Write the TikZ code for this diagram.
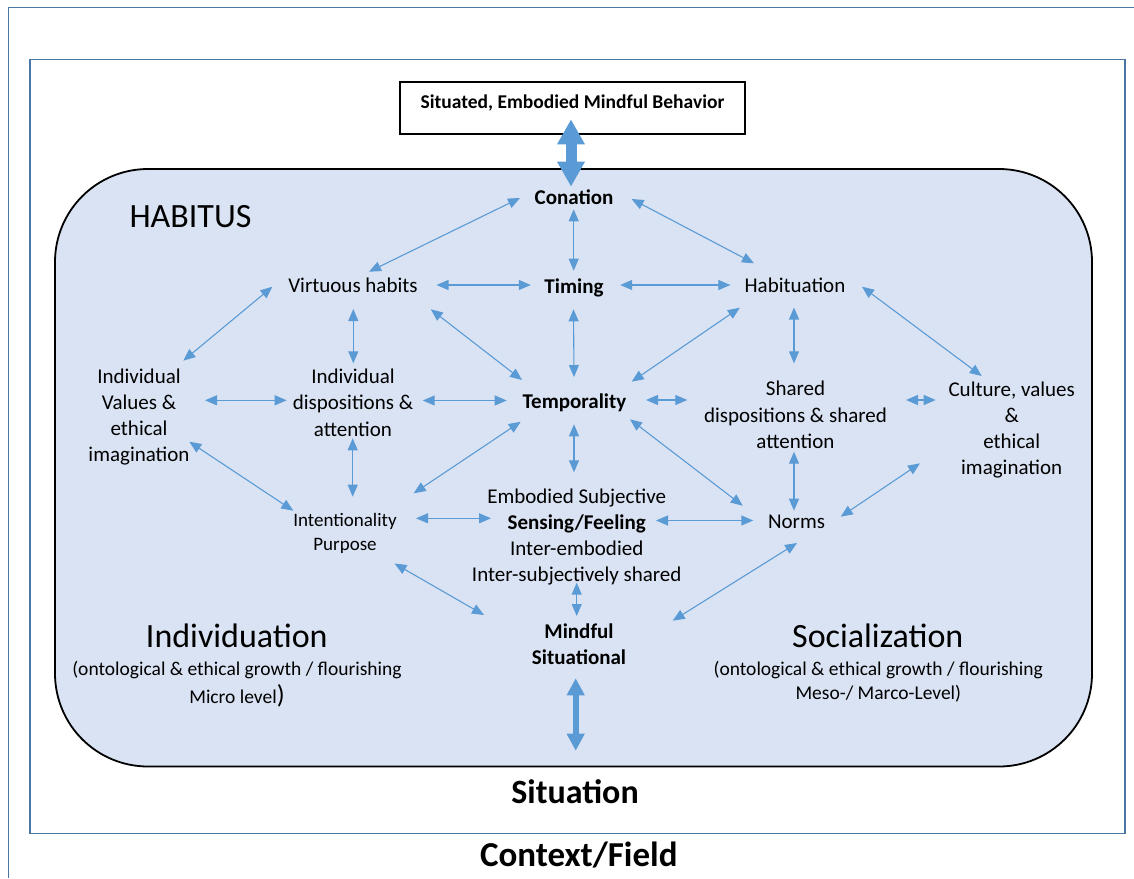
\documentclass[tikz,border=0pt]{standalone}
\usepackage{fontspec}
\setmainfont{Carlito}
\usetikzlibrary{arrows.meta}
\definecolor{arrblue}{RGB}{91,155,213}
\definecolor{habfill}{RGB}{218,227,243}
\definecolor{framec}{RGB}{72,118,165}
\newcommand\fsBody{\fontsize{21}{26.3}\selectfont}
\newcommand\fsInt{\fontsize{19}{24}\selectfont}
\newcommand\fsTop{\fontsize{19.5}{24}\selectfont}
\newcommand\fsBig{\fontsize{34}{40}\selectfont}
\newcommand\fsSubA{\fontsize{19.5}{28}\selectfont}
\newcommand\fsSubB{\fontsize{19.5}{24.5}\selectfont}
\begin{document}
\begin{tikzpicture}[x=1pt,y=-1pt,
  lab/.style={inner sep=0pt, font=\fsBody},
  one/.style={lab, text height=13.5pt, text depth=0pt},
  ml/.style={lab, align=center},
  big/.style={inner sep=0pt, font=\fsBig, text height=22pt, text depth=0pt},
  arr/.style={draw=arrblue, line width=1.1pt, {Triangle[length=12pt,width=10pt]}-{Triangle[length=12pt,width=10pt]}},
  bigarr/.style={draw=arrblue, line width=11pt, {Triangle[length=25pt,width=26pt]}-{Triangle[length=25pt,width=26pt]}},
  bigarrb/.style={draw=arrblue, line width=6pt, {Triangle[length=17pt,width=17pt]}-{Triangle[length=17pt,width=17pt]}}
]
\useasboundingbox (0,0) rectangle (1134,878);
\fill[white] (0,0) rectangle (1134,878);
% frames
\draw[framec, line width=1.8pt] (8.5,878) -- (8.5,7.5) -- (1134,7.5);
\draw[framec, line width=1.8pt] (29.7,59.5) rectangle (1124.7,833.5);
% habitus area
\draw[black, line width=1.8pt, fill=habfill, rounded corners=93pt] (55,169) rectangle (1092,766.5);
% top box
\node[draw=black, line width=1.3pt, fill=white, minimum width=345pt, minimum height=52pt, inner sep=0pt,
      font=\fsTop\bfseries, text height=14pt, text depth=14pt] (top) at (572.5,108) {Situated, Embodied Mindful Behavior};

% big labels
\node[big] (habt) at (190.5,216.7) {HABITUS};
\node[big] (indv) at (236.8,636) {Individuation};
\node[big] (socz) at (877.8,636) {Socialization};
\node[big, font=\fsBig\bfseries] (situ) at (575,792.7) {Situation};
\node[big, font=\fontsize{35}{40}\selectfont\bfseries] (ctx) at (578.8,855) {Context/Field};
\node[lab, align=center, font=\fsSubA] (indsub) at (237,684) {(ontological \& ethical growth / flourishing\\Micro level{\fontsize{26}{28}\selectfont)}};
\node[lab, align=center, font=\fsSubB] (socsub) at (878.3,681.5) {(ontological \& ethical growth / flourishing\\Meso-/ Marco-Level)};

% concept nodes
\node[one, font=\fsBody\bfseries] (con) at (574,197.5) {Conation};
\node[one, font=\fsBody\bfseries] (tim) at (574,286.5) {Timing};
\node[one] (vh) at (353,286) {Virtuous habits};
\node[one] (hab) at (795,286) {Habituation};
\node[one, font=\fsBody\bfseries] (tem) at (574.5,402) {Temporality};
\node[ml] (iv) at (139,417) {Individual\\Values \&\\ethical\\imagination};
\node[ml] (idis) at (353,402.5) {Individual\\dispositions \&\\attention};
\node[ml] (sd) at (795.5,415) {Shared\\dispositions \& shared\\attention};
\node[ml] (cul) at (1011.7,430) {Culture, values\\\&\\ethical\\imagination};
\node[ml, font=\fsInt] (int) at (345,533) {Intentionality\\Purpose};
\node[ml] (emb) at (576.7,537) {Embodied Subjective\\\textbf{Sensing/Feeling}\\Inter-embodied\\Inter-subjectively shared};
\node[one] (nor) at (796.5,521.5) {Norms};
\node[ml, font=\fsBody\bfseries] (mind) at (579,644) {Mindful\\Situational};

% thick arrows
\draw[bigarr] ([shift={(-1.5,11.3)}]top.center) -- ([shift={(-3,-10.8)}]con.center);
\draw[bigarrb] ([shift={(-3.3,34.3)}]mind.center) -- ([shift={(0.7,-42)}]situ.center);

% thin arrows
\draw[arr] ([shift={(-54,0.5)}]con.center) -- ([shift={(16,-14.3)}]vh.center);
\draw[arr] ([shift={(57.6,1.5)}]con.center) -- ([shift={(-41,-22.7)}]hab.center);
\draw[arr] ([shift={(-0.3,11.8)}]con.center) -- ([shift={(-0.3,-15.8)}]tim.center);
\draw[arr] ([shift={(83.5,-1)}]vh.center) -- ([shift={(-43.2,-1.5)}]tim.center);
\draw[arr] ([shift={(46.2,-1.5)}]tim.center) -- ([shift={(-64.6,-1)}]hab.center);
\draw[arr] ([shift={(-80.6,0.7)}]vh.center) -- ([shift={(44.3,-56.3)}]iv.center);
\draw[arr] ([shift={(0.3,23)}]vh.center) -- ([shift={(0.3,-39.2)}]idis.center);
\draw[arr] ([shift={(77.8,23.3)}]vh.center) -- ([shift={(-52.5,-22)}]tem.center);
\draw[arr] ([shift={(-0.5,22.8)}]tim.center) -- ([shift={(-0.5,-25)}]tem.center);
\draw[arr] ([shift={(-55.2,21.7)}]hab.center) -- ([shift={(57.2,-20.3)}]tem.center);
\draw[arr] ([shift={(-1,21.5)}]hab.center) -- ([shift={(-1.5,-51.7)}]sd.center);
\draw[arr] ([shift={(67,0.7)}]hab.center) -- ([shift={(-30,-54)}]cul.center);
\draw[arr] ([shift={(66,-16.7)}]iv.center) -- ([shift={(-66.3,-2.2)}]idis.center);
\draw[arr] ([shift={(69.7,-2)}]idis.center) -- ([shift={(-67.8,-1.5)}]tem.center);
\draw[arr] ([shift={(71.5,-2)}]tem.center) -- ([shift={(-108.2,-15)}]sd.center);
\draw[arr] ([shift={(110.5,-15)}]sd.center) -- ([shift={(-76,-30)}]cul.center);
\draw[arr] ([shift={(-0.3,35.8)}]idis.center) -- ([shift={(7.7,-36.3)}]int.center);
\draw[arr] ([shift={(50.3,24.7)}]iv.center) -- ([shift={(-51.7,-22.3)}]int.center);
\draw[arr] ([shift={(-53.8,19.7)}]tem.center) -- ([shift={(68.7,-39.7)}]int.center);
\draw[arr] ([shift={(-0.5,22.3)}]tem.center) -- ([shift={(-2.7,-64.7)}]emb.center);
\draw[arr] ([shift={(55.5,17.3)}]tem.center) -- ([shift={(-53.8,-15.8)}]nor.center);
\draw[arr] ([shift={(-1.5,36.7)}]sd.center) -- ([shift={(-2.5,-10.8)}]nor.center);
\draw[arr] ([shift={(-91.7,33.3)}]cul.center) -- ([shift={(44.2,-4.8)}]nor.center);
\draw[arr] ([shift={(71,-14.7)}]int.center) -- ([shift={(-85.7,-18.7)}]emb.center);
\draw[arr] ([shift={(79.3,-16.5)}]emb.center) -- ([shift={(-43.2,-1)}]nor.center);
\draw[arr] ([shift={(49.5,30.5)}]int.center) -- ([shift={(-95,-29)}]mind.center);
\draw[arr] ([shift={(0,45.7)}]emb.center) -- ([shift={(-2.3,-28)}]mind.center);
\draw[arr] ([shift={(0.5,21.5)}]nor.center) -- ([shift={(93.7,-23.3)}]mind.center);
\end{tikzpicture}
\end{document}
